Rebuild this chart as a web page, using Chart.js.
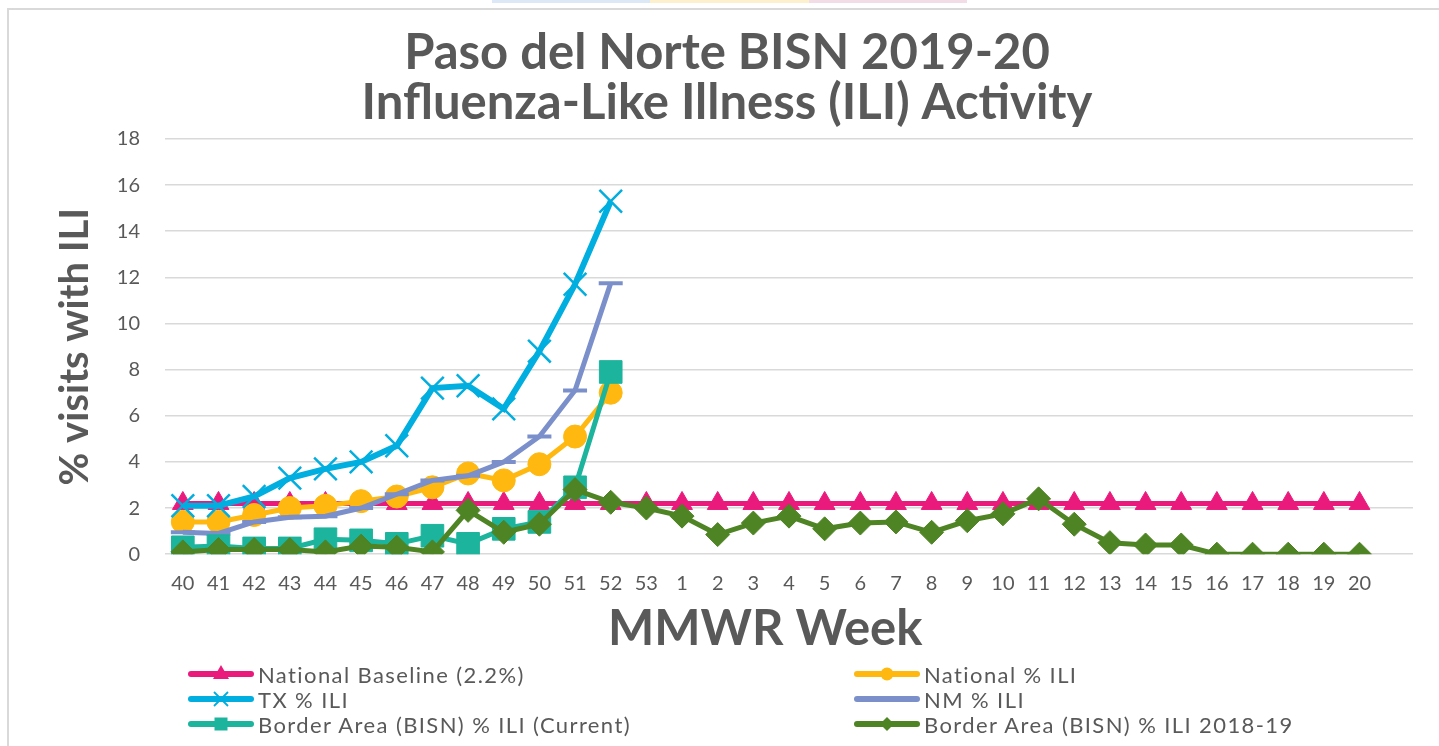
<!DOCTYPE html>
<html>
<head>
<meta charset="utf-8">
<script src="https://cdn.jsdelivr.net/npm/chart.js@4.4.1/dist/chart.umd.min.js"></script>
<style>
  body { margin: 0; background: #fff; width: 1439px; height: 746px; overflow: hidden; position: relative; font-family: Lato, sans-serif; }
  #frame { position: absolute; left: 7px; top: 8px; width: 1500px; height: 800px; border-left: 2px solid #d9d9d9; border-top: 2px solid #d9d9d9; }
  .strip { position: absolute; top: 0; height: 3px; }
  #wrap { position: absolute; left: 0; top: 0; width: 1439px; height: 746px; }
  .item { position: absolute; display: flex; align-items: center; height: 24px; font-size: 22px; color: #595959; letter-spacing: 1.4px; white-space: nowrap; }
  .item canvas { margin-right: 4px; }
</style>
</head>
<body>
<div class="strip" style="left:492px;width:158px;background:#dce8f6"></div>
<div class="strip" style="left:650px;width:159px;background:#fcf1cc"></div>
<div class="strip" style="left:809px;width:158px;background:#f2dde7"></div>
<div id="frame"></div>
<div id="wrap"><canvas id="iliChart" width="1439" height="746"></canvas></div>
<div id="legend"></div>
<script>
// Semanas MMWR (a última fica vazia, como no original)
const weeks = ['40','41','42','43','44','45','46','47','48','49','50','51','52','53',
  '1','2','3','4','5','6','7','8','9','10','11','12','13','14','15','16','17','18','19','20',''];

const baseline = [2.2,2.2,2.2,2.2,2.2,2.2,2.2,2.2,2.2,2.2,2.2,2.2,2.2,2.2,
  2.2,2.2,2.2,2.2,2.2,2.2,2.2,2.2,2.2,2.2,2.2,2.2,2.2,2.2,2.2,2.2,2.2,2.2,2.2,2.2];
const nationalIli = [1.4,1.4,1.7,2.0,2.1,2.3,2.5,2.9,3.5,3.2,3.9,5.1,7.0];
const txIli = [2.1,2.1,2.5,3.3,3.7,4.0,4.7,7.2,7.3,6.3,8.8,11.7,15.3];
const nmIli = [0.95,0.9,1.4,1.6,1.65,2.0,2.6,3.2,3.4,4.0,5.1,7.1,11.75];
const bisnCurrent = [0.3,0.35,0.25,0.25,0.65,0.6,0.45,0.8,0.45,1.1,1.4,2.9,7.9];
const bisnPrev = [0.1,0.2,0.2,0.2,0.1,0.35,0.3,0.1,1.9,0.95,1.3,2.8,2.25,2.0,
  1.65,0.85,1.35,1.65,1.1,1.35,1.4,0.95,1.45,1.75,2.4,1.3,0.5,0.4,0.4,0,0,0,0,0];

const yTicks = [0,2,4,6,8,10,12,14,16,18];
const titleLines = ['Paso del Norte BISN 2019-20', 'Influenza-Like Illness (ILI) Activity'];

const gray = '#595959';
const series = [
  { label: 'National Baseline (2.2%)', data: baseline, color: '#EA1A7D', style: 'triangle', r: 12, bw: 5 },
  { label: 'National % ILI', data: nationalIli, color: '#FFB80F', style: 'circle', r: 11.5, bw: 5 },
  { label: 'TX % ILI', data: txIli, color: '#00AEDF', style: 'crossRot', r: 16, bw: 6 },
  { label: 'NM % ILI', data: nmIli, color: '#7B90CB', style: 'line', r: 12, bw: 5 },
  { label: 'Border Area (BISN) % ILI (Current)', data: bisnCurrent, color: '#1CB49C', style: 'rect', r: 16, bw: 5 },
  { label: 'Border Area (BISN) % ILI 2018-19', data: bisnPrev, color: '#4E8423', style: 'rectRot', r: 12, bw: 5 }
];

function makeChart() {
  const ctx = document.getElementById('iliChart').getContext('2d');
  new Chart(ctx, {
    type: 'line',
    data: {
      labels: weeks,
      datasets: series.map((s, i) => ({
        label: s.label,
        data: s.data,
        borderColor: s.color,
        backgroundColor: s.color,
        borderWidth: s.bw,
        pointStyle: s.style,
        pointRadius: s.r,
        pointBorderColor: s.color,
        pointBackgroundColor: s.color,
        pointBorderWidth: (s.style === 'crossRot') ? 2.5 : (s.style === 'line' ? 4 : 1),
        tension: 0,
        spanGaps: false,
        order: series.length - i
      }))
    },
    options: {
      responsive: false,
      animation: false,
      layout: { padding: { left: 41, right: 26, top: 0, bottom: 0 } },
      plugins: {
        legend: { display: false },
        tooltip: { enabled: false },
        title: {
          display: true,
          text: titleLines,
          color: gray,
          font: { family: 'Lato', size: 49, weight: 'bold', lineHeight: 1.02 },
          padding: { top: 28, bottom: 11 }
        }
      },
      scales: {
        x: {
          offset: true,
          grid: { display: false, drawTicks: false },
          border: { display: false },
          ticks: { color: gray, font: { family: 'Lato', size: 20 }, padding: 17, autoSkip: false, maxRotation: 0 },
          title: {
            display: true, text: 'MMWR Week\u00a0\u00a0\u00a0\u00a0', color: gray,
            font: { family: 'Lato', size: 49, weight: 'bold', lineHeight: 1.2 },
            padding: { top: 0, bottom: 87 }
          },
          afterFit: s => { s.height = 746 - 554.2; }
        },
        y: {
          min: yTicks[0],
          max: yTicks[yTicks.length - 1],
          ticks: { stepSize: 2, color: gray, font: { family: 'Lato', size: 20 }, padding: 25 },
          grid: { color: '#d9d9d9', lineWidth: 1.5, drawTicks: false },
          border: { display: false },
          title: {
            display: true, text: '% visits with ILI', color: gray,
            font: { family: 'Lato', size: 40, weight: 'bold', lineHeight: 1.2 },
            padding: { top: 10, bottom: 0 }
          },
          afterFit: s => { s.width = 124; }
        }
      }
    }
  });
}

// Legenda em duas colunas, como no Excel
function drawSwatch(c, s) {
  const g = c.getContext('2d');
  const cx = 33, cy = 12;
  g.strokeStyle = s.color;
  g.fillStyle = s.color;
  g.lineWidth = 6;
  g.lineCap = 'round';
  g.beginPath(); g.moveTo(3, cy); g.lineTo(63, cy); g.stroke();
  g.beginPath();
  if (s.style === 'triangle') {
    g.moveTo(cx, cy - 9); g.lineTo(cx + 8, cy + 5); g.lineTo(cx - 8, cy + 5); g.closePath(); g.fill();
  } else if (s.style === 'circle') {
    g.arc(cx, cy, 6.5, 0, Math.PI * 2); g.fill();
  } else if (s.style === 'crossRot') {
    g.lineWidth = 1.8; g.lineCap = 'butt';
    g.moveTo(cx - 7, cy - 7); g.lineTo(cx + 7, cy + 7);
    g.moveTo(cx + 7, cy - 7); g.lineTo(cx - 7, cy + 7); g.stroke();
  } else if (s.style === 'rect') {
    g.fillRect(cx - 6.5, cy - 6.5, 13, 13);
  } else if (s.style === 'rectRot') {
    g.moveTo(cx, cy - 7); g.lineTo(cx + 7, cy); g.lineTo(cx, cy + 7); g.lineTo(cx - 7, cy); g.closePath(); g.fill();
  }
}

const legendCols = [188, 854];
const legendRows = [674, 699, 724];
const legend = document.getElementById('legend');
series.forEach((s, i) => {
  const item = document.createElement('div');
  item.className = 'item';
  item.style.left = legendCols[i % 2] + 'px';
  item.style.top = (legendRows[Math.floor(i / 2)] - 12) + 'px';
  const c = document.createElement('canvas');
  c.width = 66; c.height = 24;
  drawSwatch(c, s);
  item.appendChild(c);
  const t = document.createElement('span');
  t.textContent = s.label;
  item.appendChild(t);
  legend.appendChild(item);
});

Promise.all([
  document.fonts.load('bold 49px Lato'),
  document.fonts.load('20px Lato')
]).catch(() => {}).then(makeChart);
</script>
</body>
</html>
